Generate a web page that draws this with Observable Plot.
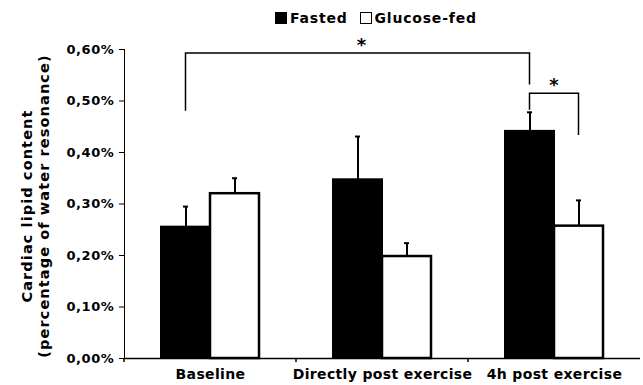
<!DOCTYPE html>
<html><head><meta charset="utf-8">
<script src="https://cdn.jsdelivr.net/npm/d3@7"></script>
<script src="https://cdn.jsdelivr.net/npm/@observablehq/plot@0.6"></script>
<style>
body{margin:0;background:#fff;font-family:"DejaVu Sans",Verdana,sans-serif;}
#wrap{position:relative;width:643px;height:385px;overflow:hidden;}
#legend{position:absolute;left:275px;top:5px;height:25px;display:flex;align-items:center;font-weight:bold;font-size:14px;letter-spacing:0.8px;color:#000;white-space:nowrap;}
.sw{width:10px;height:10px;border:1.5px solid #000;margin-right:3px;}
.item{display:flex;align-items:center;margin-right:12px;}
#chart{position:absolute;left:0;top:30px;}
[aria-label="fx-axis tick label"]{font-size:14px;letter-spacing:0.35px;}
[aria-label="y-axis tick label"]{font-size:13px;letter-spacing:0.6px;}
</style></head><body>
<div id="wrap"><div id="legend"></div><div id="chart"></div></div>
<script>
const categories = ["Baseline", "Directly post exercise", "4h post exercise"];
const groups = ["Fasted", "Glucose-fed"];
const fastedMean = [0.255, 0.347, 0.441];
const fastedErr = [0.040, 0.084, 0.037];
const glucoseMean = [0.320, 0.198, 0.257];
const glucoseErr = [0.030, 0.026, 0.050];
const yTicks = [0, 0.1, 0.2, 0.3, 0.4, 0.5, 0.6];
const yTitle = ["Cardiac lipid content", "(percentage of water resonance)"];
// significance brackets: from [category, group], to [category, group], leg starts & top level
const bracketFrom = [[categories[0], groups[0]], [categories[2], groups[0]]];
const bracketTo = [[categories[2], groups[0]], [categories[2], groups[1]]];
const bracketY1 = [0.480, 0.482];
const bracketTop = [0.592, 0.514];
const bracketY2 = [0.531, 0.433];
const sigLabel = "*";

const legend = d3.select("#legend");
groups.forEach((g, i) => {
  const it = legend.append("div").attr("class", "item");
  it.append("div").attr("class", "sw").style("background", i === 0 ? "#000" : "#fff");
  it.append("span").text(g);
});

const rows = categories.flatMap((c, i) => [
  {category: c, group: groups[0], value: fastedMean[i], err: fastedErr[i]},
  {category: c, group: groups[1], value: glucoseMean[i], err: glucoseErr[i]}
]);

const plot = Plot.plot({
  width: 643, height: 355,
  marginLeft: 123, marginRight: 2, marginTop: 19, marginBottom: 27,
  style: {fontFamily: '"DejaVu Sans", Verdana, sans-serif', fontWeight: "bold", fontSize: "13px", color: "#000", background: "transparent", overflow: "visible"},
  fx: {domain: categories, padding: 0, axis: "bottom", tickSize: 0, tickPadding: 11, label: null},
  x: {domain: groups, paddingInner: 0, paddingOuter: 0.733, axis: null},
  y: {domain: [0, 0.6], ticks: yTicks, tickFormat: d => d.toFixed(2).replace(".", ",") + "%", tickSize: 5, tickPadding: 5, line: true, label: null},
  marks: [
    Plot.ruleY([0], {stroke: "#000", strokeWidth: 1.5}),
    Plot.ruleX(rows, {fx: "category", x: "group", y1: "value", y2: d => d.value + d.err, stroke: "#000", strokeWidth: 2}),
    Plot.tickY(rows, {fx: "category", x: "group", y: d => d.value + d.err, insetLeft: 22, insetRight: 22, stroke: "#000", strokeWidth: 2}),
    Plot.barY(rows.filter(d => d.group === groups[0]), {fx: "category", x: "group", y: "value", fill: "#000", stroke: "#000", strokeWidth: 2}),
    Plot.barY(rows.filter(d => d.group === groups[1]), {fx: "category", x: "group", y: "value", fill: "#fff", stroke: "#000", strokeWidth: 2.5})
  ]
});
document.getElementById("chart").appendChild(plot);

const svg = d3.select(plot);
const fxS = plot.scale("fx"), xS = plot.scale("x"), yS = plot.scale("y");
const cx = ([cat, g]) => fxS.apply(cat) + xS.apply(g) - xS.range[0] + xS.bandwidth / 2;
const y0 = yS.apply(0);

// category boundary ticks below the axis
svg.append("g").selectAll("line").data(categories).join("line")
  .attr("x1", c => fxS.apply(c)).attr("x2", c => fxS.apply(c))
  .attr("y1", y0).attr("y2", y0 + 4).attr("stroke", "#000").attr("stroke-width", 1.5);

// significance brackets
const bg = svg.append("g");
bracketFrom.forEach((f, i) => {
  const a = cx(f), b = cx(bracketTo[i]);
  const pts = [[a, yS.apply(bracketY1[i])], [a, yS.apply(bracketTop[i])], [b, yS.apply(bracketTop[i])], [b, yS.apply(bracketY2[i])]];
  bg.append("path").attr("d", d3.line()(pts)).attr("fill", "none").attr("stroke", "#000").attr("stroke-width", 1.5);
  bg.append("text").attr("x", (a + b) / 2 + (i === 0 ? 4 : 0)).attr("y", yS.apply(bracketTop[i]) - 2)
    .attr("text-anchor", "middle").style("font-size", "18px").text(sigLabel);
});

// y axis title
const t = svg.append("text").attr("transform", "translate(32,176) rotate(-90)")
  .attr("text-anchor", "middle").style("font-size", "14.5px").style("letter-spacing", "1.1px");
yTitle.forEach((s, i) => t.append("tspan").attr("x", 0).attr("dy", i === 0 ? 0 : 17).text(s));
</script>
</body></html>
